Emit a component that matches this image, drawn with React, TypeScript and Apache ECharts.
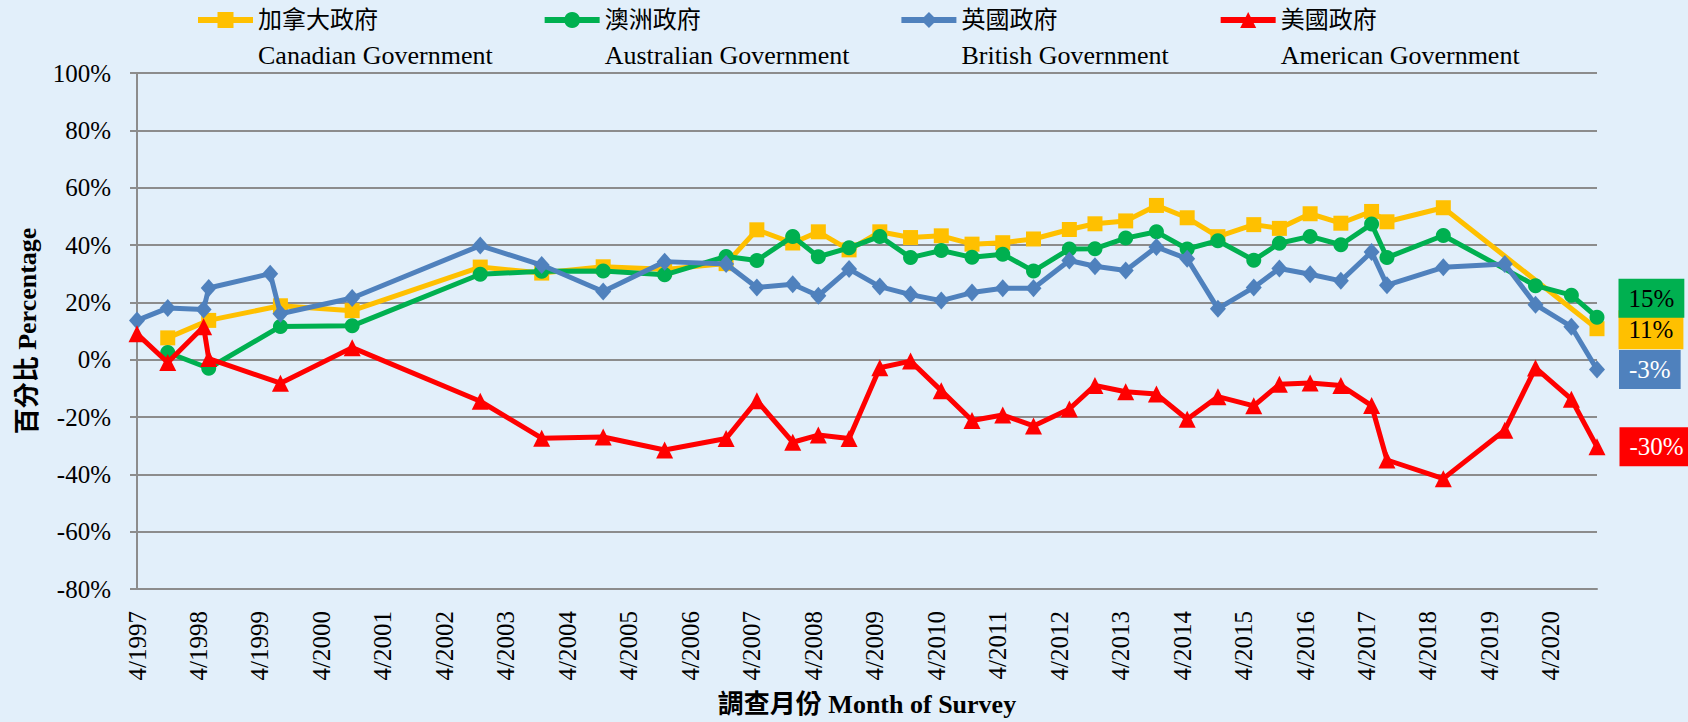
import React, { useEffect, useRef } from "react";
import * as echarts from "echarts";

// Survey months (YYYY-MM)
const surveyMonths = [
  "1997-04", "1997-10", "1998-05", "1998-06", "1999-06", "1999-08", "2000-10",
  "2002-11", "2003-11", "2004-11", "2005-11", "2006-11", "2007-05", "2007-12",
  "2008-05", "2008-11", "2009-05", "2009-11", "2010-05", "2010-11", "2011-05",
  "2011-11", "2012-06", "2012-11", "2013-05", "2013-11", "2014-05", "2014-11",
  "2015-06", "2015-11", "2016-05", "2016-11", "2017-05", "2017-08", "2018-07",
  "2019-07", "2020-01", "2020-08", "2021-01",
];

const canadian = [
  null, 7.6, null, 13.7, null, 18.8, 17.1,
  32.3, 30.2, 32.4, 31.5, 33.5, 45.3, 40.7,
  44.6, 38.3, 44.6, 42.6, 43.2, 40.3, 40.8,
  42.1, 45.4, 47.4, 48.4, 53.8, 49.5, 42.9,
  47.1, 45.8, 50.9, 47.6, 51.7, 48.1, 53.0,
  null, null, null, 10.8,
];
const australian = [
  null, 2.5, null, -3.0, null, 11.6, 11.8,
  29.8, 30.8, 30.9, 29.6, 36.0, 34.6, 43.0,
  35.9, 39.0, 43.0, 35.6, 38.1, 35.7, 36.8,
  30.9, 38.6, 38.7, 42.4, 44.6, 38.6, 41.5,
  34.7, 40.6, 43.0, 40.1, 47.3, 35.6, 43.3,
  null, 25.8, 22.5, 14.8,
];
const british = [
  13.7, 18.0, 17.5, 25.0, 30.0, 16.0, 21.5,
  39.8, 33.0, 23.8, 34.2, 33.4, 25.2, 26.3,
  22.3, 31.6, 25.5, 22.7, 20.6, 23.4, 24.9,
  24.9, 34.6, 32.6, 31.1, 39.3, 35.2, 17.8,
  25.2, 31.8, 29.8, 27.5, 37.6, 26.0, 32.2,
  33.4, 19.2, 11.5, -3.4,
];
const american = [
  9.0, -1.0, 11.5, 0.4, null, -8.2, 4.2,
  -14.5, -27.4, -27.0, -31.5, -27.5, -14.3, -28.8,
  -26.3, -27.5, -2.8, -0.5, -10.8, -21.2, -19.3,
  -23.1, -17.2, -9.0, -11.2, -12.0, -20.8, -12.9,
  -16.1, -8.6, -8.1, -9.0, -16.0, -35.0, -41.5,
  -24.6, -2.9, -13.8, -30.4,
];

const seriesNamesCn = ["加拿大政府", "澳洲政府", "英國政府", "美國政府"];
const seriesNamesEn = [
  "Canadian Government",
  "Australian Government",
  "British Government",
  "American Government",
];
const seriesColors = ["#FFC000", "#00B050", "#4F81BD", "#FF0000"];
const seriesSymbols = ["rect", "circle", "diamond", "triangle"];
const seriesSymbolSizes: any[] = [15, 15, [16, 18], 17];
const endLabelTextColors = ["#000000", "#000000", "#FFFFFF", "#FFFFFF"];
const endLabelOffsets = [1, -19, 0, 0];

const yTicks = { min: -80, max: 100, interval: 20 };
const startYear = 1997;
const startMonth = 4;

const SERIF = "'Liberation Serif', 'Times New Roman', 'Noto Sans CJK TC', serif";

function monthIndex(s: string): number {
  const [y, m] = s.split("-").map(Number);
  return (y - startYear) * 12 + (m - startMonth);
}

export default function App() {
  const ref = useRef<HTMLDivElement>(null);

  useEffect(() => {
    document.body.style.margin = "0";
    if (!ref.current) return;
    const chart = echarts.init(ref.current, undefined, { renderer: "svg" });
    const xs = surveyMonths.map(monthIndex);
    const xMax = xs[xs.length - 1];
    const allValues = [canadian, australian, british, american];

    const series = allValues.map((vals, si) => {
      const data: any[] = [];
      vals.forEach((v, i) => {
        if (v === null || v === undefined) return;
        const isLast = i === vals.length - 1;
        if (isLast) {
          data.push({
            value: [xs[i], v],
            label: {
              show: true,
              position: "right",
              distance: 14,
              offset: [0, endLabelOffsets[si]],
              formatter: () => `${Math.round(v as number)}%`,
              backgroundColor: seriesColors[si],
              color: endLabelTextColors[si],
              padding: [7, 10],
              fontSize: 25,
              lineHeight: 25,
              fontFamily: SERIF,
            },
          });
        } else {
          data.push([xs[i], v]);
        }
      });
      return {
        name: seriesNamesCn[si],
        type: "line",
        data,
        symbol: seriesSymbols[si],
        symbolSize: seriesSymbolSizes[si],
        showSymbol: true,
        lineStyle: { width: 5, color: seriesColors[si] },
        itemStyle: { color: seriesColors[si] },
        emphasis: { disabled: true },
        z: 2 + si,
      };
    });

    const option: any = {
      animation: false,
      backgroundColor: "#E2EFFA",
      textStyle: { fontFamily: SERIF },
      legend: {
        show: true,
        left: 195,
        top: 8,
        padding: 0,
        itemGap: 49,
        itemWidth: 55,
        itemHeight: 20,
        lineStyle: { width: 6 },
        data: seriesNamesCn,
        formatter: (name: string) => {
          const i = seriesNamesCn.indexOf(name);
          return `{cn|${name}}\n{en|${seriesNamesEn[i]}}`;
        },
        textStyle: {
          color: "#000",
          fontFamily: SERIF,
          padding: [35, 0, 0, 0],
          rich: {
            cn: { fontSize: 24, lineHeight: 35, fontFamily: SERIF, color: "#000" },
            en: { fontSize: 26, lineHeight: 35, fontFamily: SERIF, color: "#000" },
          },
        },
      },
      grid: {
        left: 137,
        right: 1688 - 1597,
        top: 73,
        bottom: 722 - 595,
        containLabel: false,
      },
      xAxis: {
        type: "value",
        min: 0,
        max: xMax,
        interval: 12,
        name: "調查月份 Month of Survey",
        nameLocation: "middle",
        nameGap: 102,
        nameTextStyle: {
          fontSize: 26,
          fontWeight: "bold",
          color: "#000",
          fontFamily: SERIF,
        },
        axisLine: { show: true, onZero: false, lineStyle: { color: "#8C8C8C", width: 2 } },
        axisTick: { show: false },
        splitLine: { show: false },
        axisLabel: {
          rotate: 90,
          margin: 22,
          fontSize: 25,
          color: "#000",
          fontFamily: SERIF,
          showMaxLabel: false,
          formatter: (v: number) =>
            v % 12 === 0 ? `${startMonth}/${startYear + v / 12}` : "",
        },
      },
      yAxis: {
        type: "value",
        min: yTicks.min,
        max: yTicks.max,
        interval: yTicks.interval,
        name: "百分比 Percentage",
        nameLocation: "middle",
        nameGap: 97,
        nameRotate: 90,
        nameTextStyle: {
          fontSize: 26,
          fontWeight: "bold",
          color: "#000",
          fontFamily: SERIF,
        },
        axisLine: { show: true, lineStyle: { color: "#8C8C8C", width: 2 } },
        axisTick: { show: true, length: 7, lineStyle: { color: "#8C8C8C", width: 2 } },
        splitLine: { show: true, lineStyle: { color: "#8C8C8C", width: 2 } },
        axisLabel: {
          margin: 26,
          fontSize: 25,
          color: "#000",
          fontFamily: SERIF,
          formatter: "{value}%",
        },
      },
      series,
    };

    chart.setOption(option);
    return () => chart.dispose();
  }, []);

  return <div ref={ref} style={{ width: 1688, height: 722 }} />;
}
